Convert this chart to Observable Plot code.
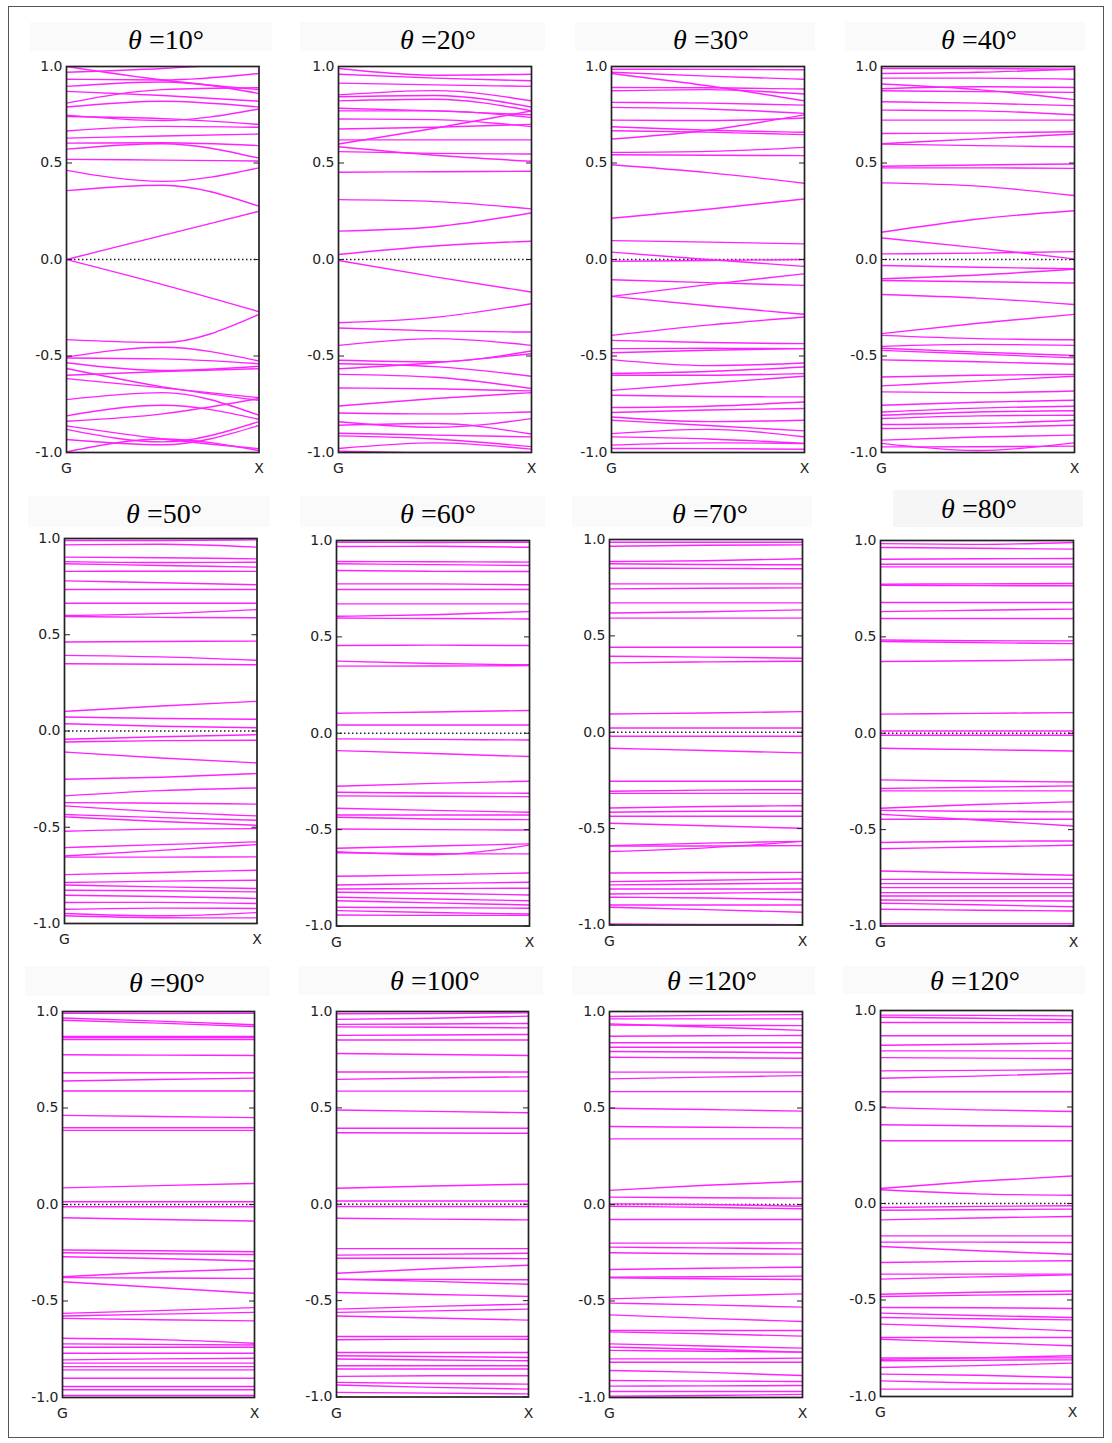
<!DOCTYPE html>
<html>
<head>
<meta charset="utf-8">
<script src="https://cdn.jsdelivr.net/npm/d3@7"></script>
<script src="https://cdn.jsdelivr.net/npm/@observablehq/plot@0.6"></script>
<style>
  html, body { margin: 0; padding: 0; background: #fff; }
  #page { position: relative; width: 1112px; height: 1443px; overflow: hidden; background: #fff; }
  .border { position: absolute; left: 8px; top: 6px; width: 1096px; height: 1432px; border: 1px solid #555; box-sizing: border-box; }
  .tbg { position: absolute; background: #fafafa; }
  .title { position: absolute; width: 220px; text-align: center; font-family: "Liberation Serif", "DejaVu Serif", serif; font-size: 28px; line-height: 28px; color: #000; white-space: nowrap; }
  .panel { position: absolute; }
</style>
</head>
<body>
<div id="page"><div class="border"></div></div>
<script>
// ---------- data ----------
const angles = [10, 20, 30, 40, 50, 60, 70, 80, 90, 100, 120, 120];
const kPoints = [0, 0.5, 1];          // G, midway, X
const kLabels = ["G", "X"];
const yTicks = [-1, -0.5, 0, 0.5, 1];

// each band: [E(G), E(mid), E(X)]
const th10 = [
[1.00,0.93,0.88],[0.97,0.99,1.02],[0.934,0.93,0.964],[0.897,0.92,0.86],[0.871,0.85,0.82],
[0.81,0.88,0.89],[0.79,0.82,0.79],[0.748,0.72,0.78],[0.741,0.73,0.70],[0.666,0.69,0.685],
[0.629,0.64,0.65],[0.603,0.605,0.59],[0.572,0.60,0.525],[0.519,0.515,0.51],[0.462,0.405,0.475],
[0.357,0.385,0.276],[0.0,0.125,0.25],[0.0,-0.13,-0.27],[-0.415,-0.43,-0.285],[-0.505,-0.455,-0.526],
[-0.51,-0.515,-0.54],[-0.535,-0.575,-0.553],[-0.565,-0.66,-0.73],[-0.60,-0.58,-0.566],[-0.617,-0.665,-0.716],
[-0.726,-0.69,-0.807],[-0.81,-0.755,-0.828],[-0.838,-0.80,-0.72],[-0.862,-0.93,-0.98],[-0.88,-0.945,-0.84],
[-0.933,-0.96,-0.86],[-0.997,-0.93,-0.99]
];
const th20 = [
[0.99,0.955,0.96],[0.96,0.94,0.926],[0.914,0.905,0.897],[0.853,0.875,0.822],[0.843,0.85,0.79],
[0.822,0.83,0.77],[0.784,0.77,0.75],[0.77,0.77,0.736],[0.728,0.725,0.688],[0.676,0.685,0.70],
[0.62,0.62,0.62],[0.598,0.68,0.77],[0.584,0.54,0.509],[0.559,0.55,0.547],[0.452,0.455,0.457],
[0.31,0.30,0.262],[0.147,0.17,0.241],[0.026,0.07,0.095],[-0.005,-0.09,-0.169],[-0.328,-0.30,-0.229],
[-0.355,-0.37,-0.376],[-0.445,-0.41,-0.445],[-0.522,-0.53,-0.474],[-0.54,-0.555,-0.605],[-0.566,-0.535,-0.488],
[-0.595,-0.61,-0.669],[-0.666,-0.67,-0.681],[-0.759,-0.72,-0.69],[-0.795,-0.80,-0.79],[-0.841,-0.87,-0.824],
[-0.859,-0.85,-0.905],[-0.90,-0.91,-0.919],[-0.914,-0.93,-0.97],[-0.979,-0.95,-0.983],[-0.993,-1.0,-1.0]
];
const th30 = [
[0.986,0.985,0.983],[0.97,0.95,0.934],[0.964,0.90,0.822],[0.891,0.89,0.883],[0.874,0.88,0.857],
[0.814,0.81,0.80],[0.788,0.78,0.757],[0.722,0.72,0.733],[0.688,0.67,0.659],[0.667,0.66,0.647],
[0.624,0.67,0.75],[0.555,0.56,0.581],[0.543,0.54,0.538],[0.491,0.45,0.395],[0.214,0.26,0.314],
[0.098,0.09,0.081],[0.038,0.0,-0.036],[-0.009,-0.005,0.0],[-0.105,-0.12,-0.134],[-0.191,-0.13,-0.074],
[-0.191,-0.24,-0.284],[-0.393,-0.34,-0.298],[-0.419,-0.43,-0.436],[-0.462,-0.46,-0.462],[-0.483,-0.47,-0.462],
[-0.519,-0.55,-0.536],[-0.591,-0.58,-0.557],[-0.60,-0.60,-0.591],[-0.678,-0.64,-0.605],[-0.703,-0.71,-0.712],
[-0.767,-0.76,-0.738],[-0.793,-0.78,-0.772],[-0.816,-0.84,-0.833],[-0.833,-0.86,-0.888],[-0.902,-0.88,-0.919],
[-0.919,-0.93,-0.953],[-0.962,-0.95,-0.953],[-0.979,-0.98,-0.983]
];
const th40 = [
[0.99,0.99,0.986],[0.964,0.97,0.986],[0.94,0.94,0.934],[0.909,0.88,0.828],[0.885,0.895,0.891],
[0.874,0.87,0.866],[0.817,0.81,0.797],[0.774,0.77,0.75],[0.722,0.722,0.722],[0.653,0.655,0.662],
[0.60,0.625,0.65],[0.598,0.59,0.584],[0.483,0.49,0.495],[0.475,0.475,0.472],[0.397,0.38,0.331],
[0.141,0.21,0.253],[0.112,0.06,0.003],[0.029,0.033,0.041],[-0.031,-0.04,-0.048],[-0.10,-0.08,-0.05],
[-0.109,-0.115,-0.122],[-0.181,-0.20,-0.233],[-0.384,-0.33,-0.284],[-0.393,-0.41,-0.416],[-0.45,-0.44,-0.445],
[-0.46,-0.48,-0.497],[-0.471,-0.49,-0.51],[-0.52,-0.53,-0.543],[-0.609,-0.60,-0.595],[-0.655,-0.63,-0.605],
[-0.686,-0.69,-0.681],[-0.755,-0.74,-0.729],[-0.79,-0.77,-0.76],[-0.807,-0.79,-0.784],[-0.824,-0.81,-0.807],
[-0.855,-0.85,-0.833],[-0.876,-0.87,-0.859],[-0.936,-0.92,-0.91],[-0.953,-0.99,-0.95],[-0.971,-0.97,-0.967]
];
const th50 = [
[0.99,0.99,0.993],[0.967,0.97,0.955],[0.903,0.90,0.894],[0.88,0.875,0.877],[0.869,0.86,0.851],
[0.829,0.83,0.829],[0.78,0.77,0.76],[0.735,0.735,0.735],[0.664,0.664,0.664],[0.60,0.61,0.631],
[0.595,0.59,0.588],[0.462,0.465,0.467],[0.393,0.385,0.367],[0.349,0.347,0.344],[0.102,0.13,0.154],
[0.073,0.065,0.061],[0.038,0.025,0.017],[-0.043,-0.03,-0.019],[-0.057,-0.05,-0.048],[-0.109,-0.14,-0.166],
[-0.251,-0.24,-0.221],[-0.337,-0.31,-0.296],[-0.372,-0.375,-0.38],[-0.389,-0.42,-0.441],[-0.434,-0.45,-0.464],
[-0.446,-0.47,-0.49],[-0.521,-0.51,-0.507],[-0.606,-0.59,-0.576],[-0.649,-0.62,-0.59],[-0.655,-0.655,-0.654],
[-0.746,-0.735,-0.723],[-0.787,-0.78,-0.775],[-0.80,-0.81,-0.818],[-0.827,-0.83,-0.836],[-0.853,-0.86,-0.87],
[-0.891,-0.89,-0.896],[-0.926,-0.92,-0.922],[-0.948,-0.96,-0.943],[-0.96,-0.97,-0.971]
];
const th60 = [
[0.991,0.99,0.991],[0.969,0.97,0.965],[0.891,0.89,0.888],[0.879,0.875,0.87],[0.844,0.84,0.839],
[0.775,0.775,0.77],[0.746,0.746,0.746],[0.671,0.671,0.671],[0.607,0.615,0.631],[0.598,0.595,0.593],
[0.455,0.457,0.455],[0.374,0.362,0.355],[0.348,0.349,0.351],[0.104,0.11,0.118],[0.043,0.043,0.043],
[-0.029,-0.032,-0.035],[-0.09,-0.105,-0.121],[-0.275,-0.26,-0.249],[-0.306,-0.31,-0.311],[-0.325,-0.327,-0.329],
[-0.389,-0.40,-0.41],[-0.424,-0.424,-0.424],[-0.436,-0.445,-0.448],[-0.497,-0.50,-0.502],[-0.597,-0.585,-0.574],
[-0.614,-0.63,-0.58],[-0.62,-0.625,-0.626],[-0.742,-0.735,-0.725],[-0.787,-0.78,-0.773],[-0.808,-0.806,-0.804],
[-0.825,-0.83,-0.839],[-0.851,-0.86,-0.869],[-0.869,-0.88,-0.891],[-0.903,-0.905,-0.908],[-0.92,-0.93,-0.938],
[-0.943,-0.945,-0.945]
];
const th70 = [
[0.986,0.986,0.986],[0.965,0.97,0.972],[0.886,0.89,0.90],[0.874,0.87,0.869],[0.851,0.85,0.848],
[0.77,0.77,0.77],[0.744,0.747,0.749],[0.671,0.671,0.671],[0.619,0.625,0.635],[0.592,0.592,0.592],
[0.441,0.441,0.441],[0.394,0.39,0.384],[0.36,0.365,0.368],[0.095,0.10,0.107],[0.022,0.022,0.022],
[-0.021,-0.021,-0.021],[-0.083,-0.095,-0.107],[-0.254,-0.254,-0.254],[-0.306,-0.30,-0.298],[-0.317,-0.317,-0.317],
[-0.393,-0.385,-0.381],[-0.415,-0.41,-0.41],[-0.436,-0.436,-0.436],[-0.472,-0.485,-0.498],[-0.588,-0.575,-0.566],
[-0.619,-0.60,-0.566],[-0.59,-0.59,-0.588],[-0.73,-0.728,-0.727],[-0.775,-0.768,-0.761],[-0.792,-0.787,-0.782],
[-0.813,-0.813,-0.813],[-0.839,-0.835,-0.83],[-0.856,-0.86,-0.869],[-0.896,-0.896,-0.896],[-0.908,-0.92,-0.934],
[-0.995,-0.997,-0.998]
];
const th80 = [
[0.984,0.98,0.99],[0.964,0.96,0.955],[0.903,0.905,0.907],[0.877,0.877,0.877],[0.863,0.863,0.863],
[0.773,0.775,0.777],[0.768,0.766,0.765],[0.678,0.678,0.678],[0.631,0.638,0.644],[0.595,0.595,0.595],
[0.484,0.48,0.479],[0.476,0.47,0.465],[0.372,0.376,0.381],[0.099,0.103,0.107],[0.012,0.012,0.012],
[-0.01,-0.01,-0.01],[-0.078,-0.085,-0.092],[-0.242,-0.248,-0.253],[-0.287,-0.28,-0.273],[-0.299,-0.299,-0.299],
[-0.389,-0.37,-0.356],[-0.40,-0.405,-0.408],[-0.42,-0.45,-0.481],[-0.446,-0.446,-0.446],[-0.567,-0.56,-0.559],
[-0.599,-0.59,-0.581],[-0.715,-0.725,-0.737],[-0.758,-0.758,-0.758],[-0.78,-0.78,-0.78],[-0.801,-0.801,-0.801],
[-0.827,-0.827,-0.827],[-0.844,-0.844,-0.844],[-0.865,-0.868,-0.87],[-0.882,-0.89,-0.90],[-0.913,-0.918,-0.922],
[-0.988,-0.988,-0.988]
];
const th90 = [
[0.991,0.99,0.991],[0.966,0.95,0.931],[0.955,0.94,0.922],[0.871,0.871,0.871],[0.865,0.865,0.865],
[0.855,0.855,0.855],[0.776,0.774,0.772],[0.683,0.683,0.683],[0.64,0.648,0.655],[0.588,0.588,0.588],
[0.462,0.456,0.45],[0.398,0.398,0.398],[0.384,0.384,0.384],[0.086,0.098,0.109],[0.014,0.014,0.014],
[-0.012,-0.012,-0.012],[-0.069,-0.078,-0.086],[-0.236,-0.24,-0.245],[-0.25,-0.255,-0.259],[-0.271,-0.28,-0.293],
[-0.374,-0.35,-0.334],[-0.379,-0.381,-0.383],[-0.40,-0.43,-0.46],[-0.564,-0.55,-0.534],[-0.578,-0.568,-0.559],
[-0.59,-0.597,-0.603],[-0.693,-0.70,-0.719],[-0.722,-0.725,-0.728],[-0.74,-0.74,-0.74],[-0.771,-0.771,-0.771],
[-0.805,-0.80,-0.797],[-0.822,-0.822,-0.822],[-0.84,-0.84,-0.84],[-0.857,-0.857,-0.857],[-0.90,-0.90,-0.90],
[-0.943,-0.943,-0.943],[-0.96,-0.96,-0.96],[-0.99,-0.99,-0.99]
];
const th100 = [
[0.988,0.99,0.993],[0.959,0.965,0.976],[0.933,0.935,0.938],[0.92,0.918,0.915],[0.876,0.878,0.881],
[0.852,0.852,0.852],[0.782,0.777,0.772],[0.686,0.686,0.686],[0.648,0.655,0.661],[0.587,0.587,0.587],
[0.489,0.482,0.475],[0.394,0.394,0.394],[0.371,0.37,0.368],[0.083,0.095,0.104],[0.017,0.017,0.017],
[-0.012,-0.012,-0.012],[-0.073,-0.077,-0.081],[-0.23,-0.23,-0.23],[-0.264,-0.26,-0.254],[-0.28,-0.28,-0.282],
[-0.358,-0.335,-0.316],[-0.389,-0.40,-0.415],[-0.39,-0.39,-0.392],[-0.458,-0.468,-0.478],[-0.544,-0.53,-0.518],
[-0.561,-0.553,-0.544],[-0.58,-0.59,-0.601],[-0.686,-0.686,-0.686],[-0.703,-0.70,-0.70],[-0.769,-0.769,-0.769],
[-0.786,-0.79,-0.795],[-0.803,-0.808,-0.812],[-0.838,-0.838,-0.838],[-0.855,-0.855,-0.855],[-0.893,-0.89,-0.89],
[-0.924,-0.93,-0.933],[-0.938,-0.95,-0.959],[-0.976,-0.98,-0.984]
];
const th120a = [
[0.974,0.98,0.984],[0.962,0.962,0.962],[0.936,0.92,0.902],[0.93,0.928,0.927],[0.872,0.874,0.876],
[0.838,0.838,0.838],[0.815,0.815,0.815],[0.793,0.79,0.786],[0.763,0.76,0.758],[0.686,0.686,0.686],
[0.651,0.66,0.668],[0.585,0.585,0.585],[0.499,0.492,0.484],[0.404,0.40,0.397],[0.34,0.34,0.34],
[0.073,0.10,0.119],[0.038,0.035,0.033],[0.003,0.0,-0.009],[-0.009,-0.015,-0.022],[-0.078,-0.078,-0.078],
[-0.20,-0.20,-0.199],[-0.221,-0.225,-0.23],[-0.25,-0.255,-0.257],[-0.337,-0.33,-0.325],[-0.377,-0.374,-0.371],
[-0.38,-0.385,-0.389],[-0.489,-0.475,-0.463],[-0.511,-0.52,-0.532],[-0.572,-0.59,-0.606],[-0.653,-0.653,-0.653],
[-0.66,-0.67,-0.682],[-0.722,-0.733,-0.744],[-0.739,-0.75,-0.765],[-0.756,-0.76,-0.765],[-0.80,-0.80,-0.796],
[-0.817,-0.817,-0.817],[-0.86,-0.87,-0.886],[-0.912,-0.915,-0.917],[-0.941,-0.94,-0.938],[-0.969,-0.969,-0.969],
[-0.993,-0.99,-0.984]
];
const th120b = [
[0.976,0.975,0.972],[0.965,0.96,0.952],[0.938,0.938,0.938],[0.869,0.869,0.869],[0.82,0.825,0.831],
[0.791,0.791,0.791],[0.756,0.753,0.751],[0.687,0.69,0.693],[0.649,0.66,0.675],[0.579,0.579,0.579],
[0.497,0.485,0.477],[0.408,0.403,0.399],[0.325,0.325,0.325],[0.078,0.115,0.143],[0.071,0.05,0.043],
[-0.021,-0.015,-0.012],[-0.035,-0.032,-0.029],[-0.085,-0.075,-0.067],[-0.168,-0.168,-0.168],[-0.20,-0.20,-0.202],
[-0.223,-0.245,-0.263],[-0.306,-0.30,-0.297],[-0.366,-0.366,-0.366],[-0.392,-0.38,-0.37],[-0.47,-0.46,-0.453],
[-0.482,-0.475,-0.47],[-0.539,-0.54,-0.544],[-0.568,-0.58,-0.591],[-0.591,-0.597,-0.603],[-0.625,-0.64,-0.66],
[-0.694,-0.694,-0.694],[-0.703,-0.72,-0.737],[-0.80,-0.80,-0.80],[-0.807,-0.80,-0.789],[-0.815,-0.812,-0.81],
[-0.85,-0.84,-0.827],[-0.884,-0.89,-0.902],[-0.919,-0.93,-0.936],[-0.962,-0.962,-0.962]
];
const panelBands = [th10, th20, th30, th40, th50, th60, th70, th80, th90, th100, th120a, th120b];

// ---------- layout (frame left/top/width/height, title centre x / baseline y, title strip) ----------
const layout = [
  {fx: 66,    fy: 66,     fw: 192.5, fh: 386,   tx: 166, ty: 49,  bx: 30,  by: 22,  bw: 242, bh: 29},
  {fx: 338,   fy: 66,     fw: 193,   fh: 386,   tx: 438, ty: 49,  bx: 300, by: 22,  bw: 245, bh: 29},
  {fx: 611,   fy: 66,     fw: 193,   fh: 386,   tx: 711, ty: 49,  bx: 575, by: 22,  bw: 240, bh: 29},
  {fx: 881,   fy: 66,     fw: 193,   fh: 386,   tx: 979, ty: 49,  bx: 845, by: 22,  bw: 240, bh: 29},
  {fx: 63.5,  fy: 537.5,  fw: 192.5, fh: 385,   tx: 164, ty: 523, bx: 28,  by: 496, bw: 242, bh: 31},
  {fx: 336,   fy: 539.5,  fw: 193,   fh: 385.5, tx: 438, ty: 523, bx: 300, by: 496, bw: 245, bh: 31},
  {fx: 609,   fy: 538.5,  fw: 193,   fh: 385.5, tx: 710, ty: 523, bx: 572, by: 496, bw: 240, bh: 31},
  {fx: 880,   fy: 539.5,  fw: 193,   fh: 385.5, tx: 979, ty: 518, bx: 893, by: 490, bw: 190, bh: 37},
  {fx: 61.5,  fy: 1011,   fw: 192,   fh: 386,   tx: 167, ty: 992, bx: 25,  by: 966, bw: 245, bh: 30},
  {fx: 336,   fy: 1010.5, fw: 192,   fh: 385.5, tx: 435, ty: 990, bx: 298, by: 966, bw: 245, bh: 29},
  {fx: 609,   fy: 1011,   fw: 193,   fh: 386,   tx: 712, ty: 990, bx: 572, by: 966, bw: 243, bh: 29},
  {fx: 880,   fy: 1009.5, fw: 192,   fh: 386,   tx: 975, ty: 990, bx: 843, by: 966, bw: 242, bh: 28}
];

const mL = 48, mR = 10, mT = 10, mB = 30;
const page = document.getElementById("page");

panelBands.forEach((bands, p) => {
  const L = layout[p];
  const rows = [];
  bands.forEach((b, i) => b.forEach((E, j) => rows.push({band: i, k: kPoints[j], E})));

  const bg = document.createElement("div");
  bg.className = "tbg";
  bg.style.left = L.bx + "px"; bg.style.top = L.by + "px";
  bg.style.width = L.bw + "px"; bg.style.height = L.bh + "px";
  if (p === 7) bg.style.background = "#f6f6f6";
  page.appendChild(bg);

  const chart = Plot.plot({
    width: mL + L.fw + mR,
    height: mT + L.fh + mB,
    marginLeft: mL, marginRight: mR, marginTop: mT, marginBottom: mB,
    x: {domain: [0, 1]},
    y: {domain: [-1, 1]},
    style: {fontFamily: "'DejaVu Sans', Verdana, sans-serif", fontSize: "14px", color: "#222", background: "transparent", overflow: "visible"},
    marks: [
      Plot.ruleY([0], {stroke: "#222", strokeWidth: 1.3, strokeDasharray: "1.5,2.5"}),
      Plot.line(rows, {x: "k", y: "E", z: "band", stroke: "#ff22ff", strokeWidth: 1.4, curve: "monotone-x", clip: true}),
      Plot.frame({stroke: "#222", strokeWidth: 1.7}),
      Plot.axisY({anchor: "left", ticks: yTicks, tickFormat: d => d.toFixed(1), tickSize: -6, tickPadding: 10, label: null, stroke: "#222", fontSize: 14}),
      Plot.axisY({anchor: "right", ticks: yTicks, tickFormat: () => "", tickSize: -6, tickPadding: 0, label: null, stroke: "#222"}),
      Plot.axisX({ticks: [0, 1], tickFormat: d => kLabels[d === 0 ? 0 : 1], tickSize: 0, tickPadding: 11, label: null, fontSize: 14})
    ]
  });
  const wrap = document.createElement("div");
  wrap.className = "panel";
  wrap.style.left = (L.fx - mL) + "px";
  wrap.style.top = (L.fy - mT) + "px";
  wrap.appendChild(chart);
  page.appendChild(wrap);

  const t = document.createElement("div");
  t.className = "title";
  t.style.left = (L.tx - 110) + "px";
  t.style.top = (L.ty - 23.4) + "px";
  t.innerHTML = "<i>θ</i> =" + angles[p] + "°";
  page.appendChild(t);
});
</script>
</body>
</html>
